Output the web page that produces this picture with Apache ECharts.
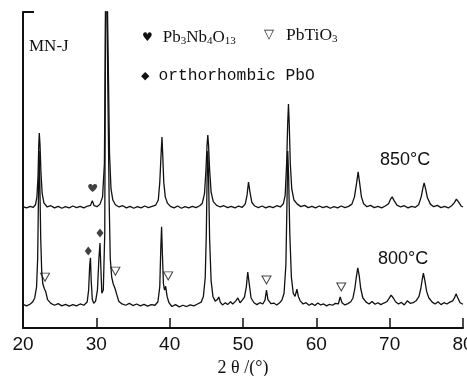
<!DOCTYPE html>
<html>
<head>
<meta charset="utf-8">
<script src="https://cdn.jsdelivr.net/npm/echarts@6/dist/echarts.min.js"></script>
<style>
  html, body { margin: 0; padding: 0; background: #fff; }
  #chart { width: 467px; height: 376px; }
</style>
</head>
<body>
<div id="chart"></div>
<script>
// XRD patterns, [2θ, intensity] with the 850 °C pattern stacked above the 800 °C one
const trace850 = [
  [20.0, 38.4], [20.5, 38.0], [21.0, 38.5], [21.4, 38.2], [21.7, 39.0], [21.9, 41.5], [22.05, 48], [22.15, 58],
  [22.22, 61.7], [22.32, 58], [22.45, 49], [22.62, 42.5], [22.85, 39.6], [23.3, 38.3], [23.8, 38.7], [24.3, 38.0],
  [24.8, 38.5], [25.3, 37.9], [25.8, 38.4], [26.3, 38.0], [26.8, 38.6], [27.3, 38.1], [27.8, 38.5], [28.3, 38.0],
  [28.8, 38.6], [29.2, 38.8], [29.45, 40.3], [29.7, 38.7], [30.1, 38.4], [30.5, 39.2], [30.85, 41.5], [31.1, 52],
  [31.35, 130], [31.6, 130], [31.8, 55], [32.0, 44], [32.25, 40.5], [32.6, 39], [33.1, 38.3], [33.6, 38.7],
  [34.1, 38.0], [34.6, 38.5], [35.1, 37.9], [35.6, 38.4], [36.1, 38.0], [36.6, 38.6], [37.1, 38.1], [37.6, 38.5],
  [38.1, 38.9], [38.45, 40.5], [38.65, 46], [38.85, 56], [38.95, 60.4], [39.05, 55], [39.2, 46], [39.4, 41.5],
  [39.7, 39.5], [40.1, 38.5], [40.6, 38.0], [41.1, 38.6], [41.6, 37.9], [42.1, 38.4], [42.6, 38.0], [43.1, 38.5],
  [43.6, 38.1], [44.1, 38.7], [44.45, 39.5], [44.75, 42.5], [44.95, 50], [45.1, 58], [45.2, 61.1], [45.3, 58],
  [45.45, 50], [45.65, 43], [45.95, 40], [46.4, 38.8], [46.9, 38.3], [47.4, 38.7], [47.9, 38.1], [48.4, 38.5],
  [48.9, 38.0], [49.4, 38.6], [49.9, 38.2], [50.3, 39.2], [50.55, 42], [50.75, 46.2], [50.95, 43], [51.2, 39.8],
  [51.6, 38.6], [52.1, 38.1], [52.6, 38.6], [53.1, 38.0], [53.6, 38.5], [54.1, 38.1], [54.6, 38.7], [55.1, 38.3],
  [55.5, 39.3], [55.75, 42], [55.95, 52], [56.1, 65], [56.2, 70.9], [56.3, 65], [56.45, 52], [56.65, 44],
  [56.95, 40.5], [57.4, 39.2], [57.9, 38.4], [58.4, 38.8], [58.9, 38.1], [59.4, 38.5], [59.9, 38.0], [60.4, 38.6],
  [60.9, 38.1], [61.4, 38.5], [61.9, 37.9], [62.4, 38.4], [62.9, 38.0], [63.4, 38.6], [63.9, 38.1], [64.4, 38.5],
  [64.85, 39.2], [65.2, 41.5], [65.5, 46], [65.7, 49.4], [65.9, 46], [66.15, 41.5], [66.45, 39.3], [66.9, 38.4],
  [67.4, 38.8], [67.9, 38.1], [68.4, 38.5], [68.9, 38.0], [69.4, 38.6], [69.85, 39.3], [70.1, 40.7], [70.35, 41.5],
  [70.6, 40.3], [71.0, 38.9], [71.5, 38.3], [72.0, 38.7], [72.5, 38.0], [73.0, 38.5], [73.5, 38.2], [73.95, 39.0],
  [74.3, 41.5], [74.55, 44.5], [74.7, 45.9], [74.9, 44], [75.15, 41.2], [75.55, 39.2], [76.0, 38.4], [76.5, 38.8],
  [77.0, 38.1], [77.5, 38.5], [78.0, 38.0], [78.45, 38.7], [78.8, 39.6], [79.1, 40.8], [79.4, 39.8], [79.75, 38.6],
  [80.0, 38.3]
];

const trace800 = [
  [20.0, 7.5], [20.5, 7.0], [21.0, 7.6], [21.3, 8.2], [21.6, 9.5], [21.85, 13], [22.0, 22], [22.1, 40],
  [22.2, 56], [22.3, 45], [22.42, 28], [22.55, 18], [22.7, 14], [22.9, 12.5], [23.1, 11.5], [23.35, 9],
  [23.8, 7.8], [24.3, 7.2], [24.8, 7.7], [25.3, 7.0], [25.8, 7.5], [26.3, 6.9], [26.8, 7.4], [27.3, 7.0],
  [27.8, 7.6], [28.3, 7.2], [28.75, 8.2], [28.95, 12], [29.1, 20], [29.2, 22.2], [29.3, 15], [29.45, 9],
  [29.65, 7.8], [29.9, 8.5], [30.15, 12], [30.35, 22], [30.5, 26.9], [30.6, 20], [30.75, 11], [30.95, 12],
  [31.15, 30], [31.3, 130], [31.55, 130], [31.75, 40], [31.9, 22], [32.1, 16], [32.3, 14], [32.55, 12.5],
  [32.8, 10.5], [33.05, 8.5], [33.5, 7.6], [34.0, 7.2], [34.5, 7.8], [35.0, 7.1], [35.5, 7.6], [36.0, 7.0],
  [36.5, 7.5], [37.0, 6.9], [37.5, 7.4], [38.0, 7.2], [38.4, 8.3], [38.65, 13], [38.8, 26], [38.9, 32],
  [39.0, 24], [39.15, 14], [39.3, 12], [39.45, 13.2], [39.65, 10], [39.9, 8.0], [40.3, 6.8], [40.8, 7.4],
  [41.3, 6.7], [41.8, 7.2], [42.3, 6.8], [42.8, 7.3], [43.3, 7.0], [43.8, 7.6], [44.3, 8.2], [44.6, 10],
  [44.85, 16], [45.0, 30], [45.12, 50], [45.2, 56], [45.3, 48], [45.45, 28], [45.65, 15], [45.9, 10],
  [46.2, 8.5], [46.5, 9], [46.7, 9.8], [46.9, 8.2], [47.2, 7.3], [47.6, 8.0], [47.9, 7.4], [48.3, 8.3],
  [48.6, 7.6], [49.0, 8.5], [49.3, 9.5], [49.6, 8.0], [49.9, 8.8], [50.2, 9.8], [50.45, 13], [50.65, 17.7],
  [50.85, 14], [51.1, 9.5], [51.5, 8.0], [51.9, 7.4], [52.3, 8.0], [52.7, 7.6], [53.0, 8.8], [53.2, 12],
  [53.4, 9], [53.8, 7.7], [54.2, 7.9], [54.6, 7.3], [55.0, 8.0], [55.3, 8.8], [55.6, 11], [55.85, 20],
  [56.0, 40], [56.1, 56], [56.22, 48], [56.38, 30], [56.6, 16], [56.85, 11], [57.1, 10], [57.35, 12.3],
  [57.55, 10], [57.8, 8.6], [58.2, 7.6], [58.6, 8.0], [59.0, 7.2], [59.4, 7.7], [59.8, 7.1], [60.2, 7.9],
  [60.6, 7.3], [61.0, 7.6], [61.4, 7.0], [61.8, 7.5], [62.2, 7.2], [62.6, 7.8], [63.0, 7.6], [63.25, 9.8],
  [63.5, 8.0], [63.9, 7.3], [64.3, 7.7], [64.7, 8.3], [65.0, 9.5], [65.25, 12.5], [65.45, 16], [65.65, 19],
  [65.85, 16.5], [66.05, 12.5], [66.35, 9.5], [66.8, 8.2], [67.2, 7.6], [67.6, 8.4], [68.0, 7.5], [68.4, 8.0],
  [68.8, 7.4], [69.2, 7.9], [69.6, 8.3], [69.9, 9.3], [70.2, 10.4], [70.5, 9.5], [70.8, 8.3], [71.2, 7.6],
  [71.6, 8.1], [72.0, 7.3], [72.4, 8.6], [72.8, 7.8], [73.2, 8.0], [73.6, 8.6], [74.0, 10], [74.25, 12.5],
  [74.45, 15.5], [74.6, 17.4], [74.8, 15], [75.05, 11.5], [75.35, 9.5], [75.8, 8.2], [76.2, 7.6], [76.6, 8.3],
  [77.0, 7.4], [77.4, 8.0], [77.8, 7.6], [78.2, 8.2], [78.6, 8.6], [78.85, 9.6], [79.05, 10.8], [79.3, 9.5],
  [79.6, 8.0], [80.0, 7.5]
];

// phase markers
const heartMarks = [[29.5, 44.3]];
const diamondMarks = [[28.9, 24.4], [30.5, 30.1]];
const triangleMarks = [[23.0, 16.1], [32.6, 18.0], [39.8, 16.5], [53.2, 15.2], [63.4, 13.0]];

const xTicks = [20, 30, 40, 50, 60, 70, 80];

const ink = '#111';
const heartPath = 'path://M50,90 C20,65 0,45 0,25 C0,10 12,0 25,0 C37,0 45,8 50,18 C55,8 63,0 75,0 C88,0 100,10 100,25 C100,45 80,65 50,90 Z';
const triPath = 'path://M0,0 L10,0 L5,10 Z';

const chart = echarts.init(document.getElementById('chart'), null, { renderer: 'canvas' });

chart.setOption({
  animation: false,
  backgroundColor: '#fff',
  grid: { left: 23, right: 4, top: 12, bottom: 48, outerBoundsMode: 'none' },
  xAxis: {
    type: 'value',
    min: xTicks[0],
    max: xTicks[xTicks.length - 1],
    interval: 10,
    name: '2 θ /(°)',
    nameLocation: 'middle',
    nameGap: 31,
    nameTextStyle: { fontFamily: 'Liberation Serif', fontSize: 18, color: ink },
    axisLine: { lineStyle: { color: ink, width: 2 } },
    axisTick: { inside: true, length: 10, lineStyle: { color: ink, width: 1.5 } },
    axisLabel: { fontFamily: 'Liberation Sans', fontSize: 19, color: ink, margin: 7 },
    splitLine: { show: false }
  },
  yAxis: {
    type: 'value',
    min: 0,
    max: 100,
    interval: 100,
    axisLine: { show: true, lineStyle: { color: ink, width: 2 } },
    axisTick: { show: true, inside: true, length: 11, lineStyle: { color: ink, width: 2 } },
    axisLabel: { show: false },
    splitLine: { show: false }
  },
  series: [
    {
      name: '850',
      type: 'line',
      data: trace850,
      showSymbol: false,
      lineStyle: { color: ink, width: 1.3 },
      clip: true
    },
    {
      name: '800',
      type: 'line',
      data: trace800,
      showSymbol: false,
      lineStyle: { color: ink, width: 1.3 },
      clip: true
    },
    {
      type: 'scatter',
      data: heartMarks,
      symbol: heartPath,
      symbolSize: [9, 8],
      itemStyle: { color: ink }
    },
    {
      type: 'scatter',
      data: diamondMarks,
      symbol: 'diamond',
      symbolSize: [7, 9],
      itemStyle: { color: ink }
    },
    {
      type: 'scatter',
      data: triangleMarks,
      symbol: triPath,
      symbolSize: [9, 8],
      itemStyle: { color: '#fff', borderColor: ink, borderWidth: 1 }
    }
  ],
  graphic: [
    {
      type: 'text', left: 29, top: 38,
      style: { text: 'MN-J', fontFamily: 'Liberation Serif', fontSize: 17, fill: ink }
    },
    {
      type: 'text', left: 142, top: 29,
      style: {
        text: '{s|♥}{t|Pb}{b|3}{t|Nb}{b|4}{t|O}{b|13}',
        rich: {
          s: { fontFamily: 'DejaVu Sans', fontSize: 12, fill: ink, padding: [0, 10, 0, 0] },
          t: { fontFamily: 'Liberation Serif', fontSize: 17, fill: ink },
          b: { fontFamily: 'Liberation Serif', fontSize: 11, fill: ink, verticalAlign: 'bottom', padding: [8, 0, 0, 0] }
        }
      }
    },
    {
      type: 'text', left: 264, top: 26,
      style: {
        text: '{s|▽}{t|PbTiO}{b|3}',
        rich: {
          s: { fontFamily: 'DejaVu Sans', fontSize: 13, fill: ink, padding: [0, 12, 0, 0] },
          t: { fontFamily: 'Liberation Serif', fontSize: 17.5, fill: ink },
          b: { fontFamily: 'Liberation Serif', fontSize: 11, fill: ink, verticalAlign: 'bottom', padding: [8, 0, 0, 0] }
        }
      }
    },
    {
      type: 'text', left: 141, top: 68,
      style: {
        text: '{s|◆}{t|orthorhombic PbO}',
        rich: {
          s: { fontFamily: 'DejaVu Sans', fontSize: 11, fill: ink, padding: [0, 9, 0, 0] },
          t: { fontFamily: 'Liberation Mono', fontSize: 16.3, fill: ink }
        }
      }
    },
    {
      type: 'text', left: 380, top: 151,
      style: { text: '850°C', fontFamily: 'Liberation Sans', fontSize: 18, fill: ink }
    },
    {
      type: 'text', left: 378, top: 250,
      style: { text: '800°C', fontFamily: 'Liberation Sans', fontSize: 18, fill: ink }
    }
  ]
});
</script>
</body>
</html>
